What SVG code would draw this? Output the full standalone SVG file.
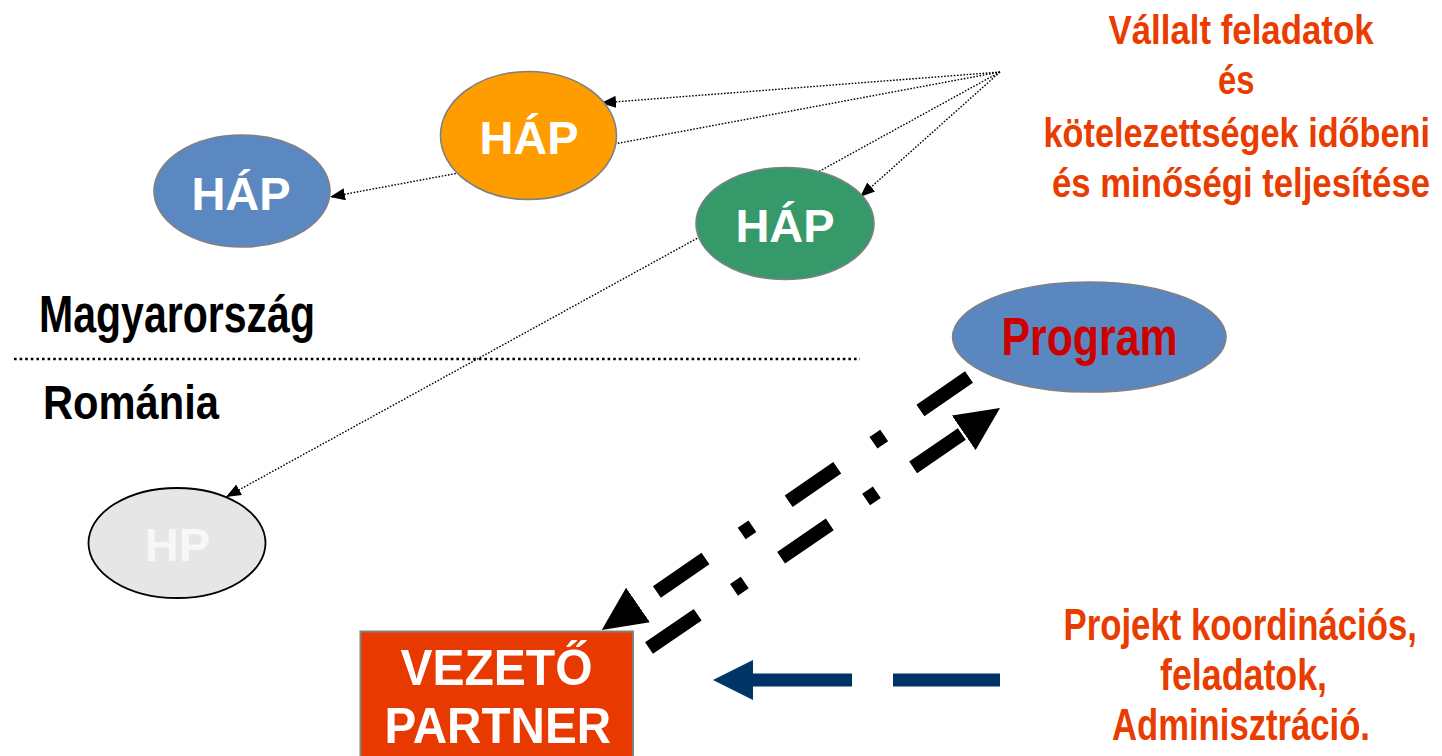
<svg xmlns="http://www.w3.org/2000/svg" width="1442" height="756" viewBox="0 0 1442 756">
<style>
  .ell { stroke: #808080; stroke-width: 1.6; }
  .hap { font-family: "Liberation Sans", Arial, sans-serif; font-weight: bold; font-size: 47px; fill: #ffffff; text-anchor: middle; }
  .lbl { font-family: "Liberation Sans", Arial, sans-serif; font-weight: bold; }
  .org { fill: #e83c00; font-size: 41px; }
  .org2 { fill: #e83c00; font-size: 44px; }
  .blk { fill: #000000; }
  .dot { fill: none; stroke: #000; stroke-width: 1.4; stroke-dasharray: 1.6 1.6; marker-end: url(#sm); }
  .thick { fill: none; stroke: #000; stroke-width: 14; stroke-dasharray: 59 44 13 44; marker-end: url(#big); }
</style>
<defs>
  <marker id="sm" markerUnits="userSpaceOnUse" markerWidth="15" markerHeight="12" refX="15" refY="6" orient="auto">
    <path d="M0,0 L15,6 L0,12 z" fill="#000"/>
  </marker>
  <marker id="big" markerUnits="userSpaceOnUse" markerWidth="44" markerHeight="42" refX="0" refY="21" orient="auto">
    <path d="M0,0 L44,21 L0,42 z" fill="#000"/>
  </marker>
  <marker id="navy" markerUnits="userSpaceOnUse" markerWidth="40" markerHeight="40" refX="0" refY="20" orient="auto">
    <path d="M0,0 L40,20 L0,40 z" fill="#003366"/>
  </marker>
</defs>
<rect width="1442" height="756" fill="#ffffff"/>

<g id="connectors">
  <line class="dot" x1="1000" y1="72" x2="601" y2="103"/>
  <line class="dot" x1="1000" y1="72" x2="330" y2="197"/>
  <line class="dot" x1="1000" y1="72" x2="226" y2="497"/>
  <line class="dot" x1="1000" y1="72" x2="860" y2="197"/>
  <line class="thick" x1="969" y1="377" x2="638" y2="605"/>
  <line class="thick" x1="649" y1="648" x2="963.7" y2="432.8"/>
  <line x1="1000" y1="680" x2="753" y2="680" stroke="#003366" stroke-width="13" stroke-dasharray="107 41 110" marker-end="url(#navy)"/>
</g>

<line x1="14" y1="359" x2="860" y2="359" stroke="#000" stroke-width="2.6" stroke-dasharray="2.6 3"/>
<text class="lbl blk" x="39" y="332" font-size="51" textLength="276" lengthAdjust="spacingAndGlyphs">Magyarország</text>
<text class="lbl blk" x="43" y="419" font-size="48" textLength="176" lengthAdjust="spacingAndGlyphs">Románia</text>

<g id="hap-blue">
  <ellipse class="ell" cx="242" cy="191" rx="88" ry="56" fill="#5b88c1"/>
  <text class="hap" x="241" y="210">HÁP</text>
</g>
<g id="hap-orange">
  <ellipse class="ell" cx="528.5" cy="135.5" rx="88" ry="64" fill="#ff9c00"/>
  <text class="hap" x="529" y="154">HÁP</text>
</g>
<g id="hap-green">
  <ellipse class="ell" cx="785" cy="223.5" rx="89" ry="56" fill="#35996a"/>
  <text class="hap" x="785" y="241.5">HÁP</text>
</g>
<g id="hp">
  <ellipse cx="177" cy="543" rx="88.5" ry="55" fill="#e6e6e6" stroke="#000" stroke-width="1.8"/>
  <text class="hap" x="177.5" y="561" style="fill:#f7f7f7">HP</text>
</g>
<g id="program">
  <ellipse class="ell" cx="1089.3" cy="337" rx="136.7" ry="55" fill="#5a87c0"/>
  <text class="lbl" x="1001.5" y="355" font-size="53" fill="#cc0000" textLength="176" lengthAdjust="spacingAndGlyphs">Program</text>
</g>
<g id="vezeto-partner">
  <rect x="360.5" y="631.5" width="272.5" height="130" fill="#e83a00" stroke="#808080" stroke-width="2"/>
  <text class="lbl" x="400.5" y="685" font-size="50" fill="#ffffff" textLength="192" lengthAdjust="spacingAndGlyphs">VEZETŐ</text>
  <text class="lbl" x="384.5" y="742.5" font-size="50" fill="#ffffff" textLength="226.5" lengthAdjust="spacingAndGlyphs">PARTNER</text>
</g>

<g id="text-vallalt">
  <text class="lbl org" transform="translate(1108.5,43.5) scale(0.82,1)" x="0" y="0" textLength="323.2" lengthAdjust="spacingAndGlyphs">Vállalt feladatok</text>
  <text class="lbl org" transform="translate(1218,93.5) scale(0.82,1)" x="0" y="0" textLength="44.5" lengthAdjust="spacingAndGlyphs">és</text>
  <text class="lbl org" transform="translate(1043.5,146.5) scale(0.82,1)" x="0" y="0" textLength="471.3" lengthAdjust="spacingAndGlyphs">kötelezettségek időbeni</text>
  <text class="lbl org" transform="translate(1052,196.5) scale(0.82,1)" x="0" y="0" textLength="461" lengthAdjust="spacingAndGlyphs">és minőségi teljesítése</text>
</g>
<g id="text-projekt">
  <text class="lbl org2" transform="translate(1063.5,640) scale(0.82,1)" x="0" y="0" textLength="431.1" lengthAdjust="spacingAndGlyphs">Projekt koordinációs,</text>
  <text class="lbl org2" transform="translate(1160,690) scale(0.82,1)" x="0" y="0" textLength="203.7" lengthAdjust="spacingAndGlyphs">feladatok,</text>
  <text class="lbl org2" transform="translate(1112,740) scale(0.82,1)" x="0" y="0" textLength="314.6" lengthAdjust="spacingAndGlyphs">Adminisztráció.</text>
</g>
</svg>
